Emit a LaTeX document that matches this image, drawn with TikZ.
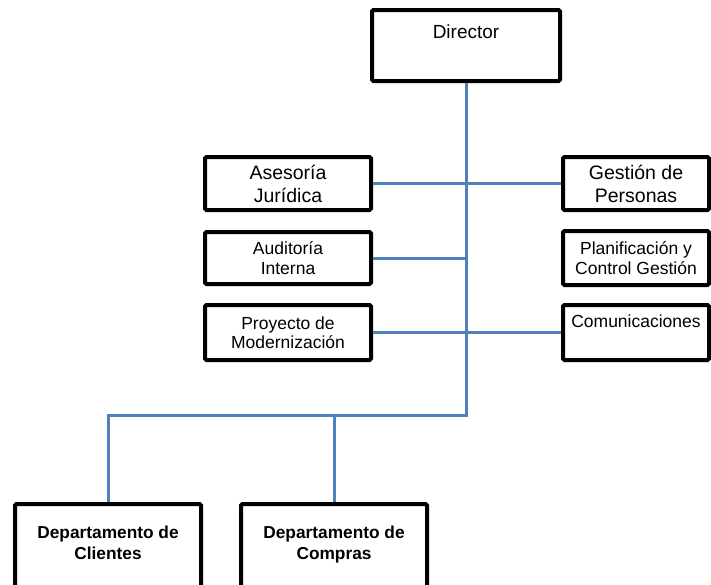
\documentclass[tikz,border=0pt]{standalone}
\usepackage{fontspec}
\setmainfont{Liberation Sans}
\definecolor{linkblue}{HTML}{4F81BD}
\begin{document}
\begin{tikzpicture}[x=1pt,y=-1pt,
  box/.style={draw=black, line width=4pt, rounded corners=1.5pt, fill=white, inner sep=0pt},
  bigtxt/.style={font=\fontsize{19.5}{23}\selectfont, align=center},
  smalltxt/.style={font=\fontsize{17.5}{19.5}\selectfont, align=center},
  boldtxt/.style={font=\bfseries\fontsize{17.3}{21}\selectfont, align=center},
  link/.style={draw=linkblue, line width=3pt}]
\useasboundingbox (0,0) rectangle (711,584);
\clip (0,0) rectangle (711,584);

% top level
\node[box, minimum width=188pt, minimum height=71pt] (dir) at (466,45.5) {};
\node[font=\fontsize{19}{22}\selectfont, inner sep=0pt, anchor=north] (dirtxt)
  at ([yshift=-17pt]dir.north) {Director};

% staff units, left column
\node[box, bigtxt, minimum width=166pt, minimum height=53pt] (ase) at (288,183.5) {Asesoría\\Jurídica};
\node[box, smalltxt, minimum width=166pt, minimum height=52pt] (aud) at (288,258) {Auditoría\\Interna};
\node[box, smalltxt, minimum width=166pt, minimum height=55pt] (pro) at (288,332.5) {Proyecto de\\Modernización};

% staff units, right column
\node[box, bigtxt, minimum width=146pt, minimum height=53pt] (ges) at (636,183.5) {Gestión de\\Personas};
\node[box, smalltxt, minimum width=146pt, minimum height=54pt] (pla) at (636,258) {Planificación y\\Control Gestión};
\node[box, minimum width=146pt, minimum height=55pt] (com) at (636,332.5) {};
\node[smalltxt, inner sep=0pt, anchor=north] (comtxt) at ([yshift=-12pt]com.north) {Comunicaciones};

% departments
\node[box, minimum width=186pt, minimum height=88pt] (cli) at (108,548) {};
\node[boldtxt, inner sep=0pt, anchor=north] (clitxt) at ([yshift=-24pt]cli.north) {Departamento de\\Clientes};
\node[box, minimum width=186pt, minimum height=88pt] (cmp) at (334,548) {};
\node[boldtxt, inner sep=0pt, anchor=north] (cmptxt) at ([yshift=-24pt]cmp.north) {Departamento de\\Compras};

% connectors
\coordinate (tb) at (466,415);
\draw[link] (dir.south) -- (tb) -| (cli.north);
\draw[link] (cmp.north) -- (cmp.north |- tb);
\draw[link] (ase.east) -- (ges.west);
\draw[link] (aud.east) -- (aud.east -| tb);
\draw[link] (pro.east) -- (com.west);
\end{tikzpicture}
\end{document}
